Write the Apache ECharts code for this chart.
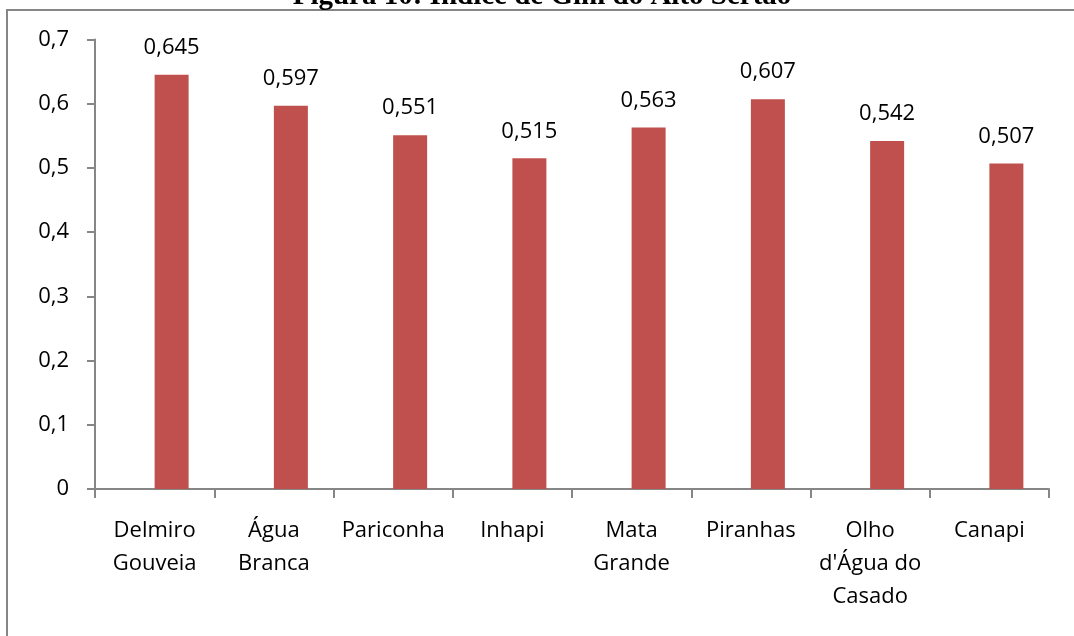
<!DOCTYPE html>
<html>
<head>
<meta charset="utf-8">
<script src="https://cdn.jsdelivr.net/npm/echarts@6/dist/echarts.min.js"></script>
<style>
html,body{margin:0;padding:0;background:#fff;}
#chart{width:1074px;height:636px;}
</style>
</head>
<body>
<div id="chart"></div>
<script>
const titleText = 'Figura 10: Índice de Gini do Alto Sertão';
const categories = ['Delmiro\nGouveia', 'Água\nBranca', 'Pariconha', 'Inhapi', 'Mata\nGrande', 'Piranhas', "Olho\nd'Água do\nCasado", 'Canapi'];
const giniValues = [0.645, 0.597, 0.551, 0.515, 0.563, 0.607, 0.542, 0.507];
const emptySeries = ['-', '-', '-', '-', '-', '-', '-', '-'];
const yMin = 0, yMax = 0.7, yStep = 0.1;

const axisGray = '#868686';
const fontFam = '"Open Sans", sans-serif';

const chart = echarts.init(document.getElementById('chart'), null, {renderer: 'canvas'});
chart.setOption({
  animation: false,
  backgroundColor: '#fff',
  graphic: [
    {type: 'rect', shape: {x: 7, y: 10, width: 1200, height: 800}, style: {fill: 'none', stroke: axisGray, lineWidth: 2}, silent: true, z: 0},
    {type: 'text', x: 542, y: -3, style: {text: titleText, font: 'bold 29px "Liberation Serif", serif', fill: '#000', align: 'center', verticalAlign: 'middle'}, z: 10}
  ],
  grid: {left: 95, right: 25, top: 39.5, bottom: 147, containLabel: false},
  xAxis: {
    type: 'category',
    data: categories,
    boundaryGap: true,
    axisLine: {show: true, lineStyle: {color: axisGray, width: 2}},
    axisTick: {show: true, length: 9, lineStyle: {color: axisGray, width: 2}},
    axisLabel: {interval: 0, margin: 25, color: '#000', fontFamily: fontFam, fontSize: 22, lineHeight: 33, align: 'center'},
    splitLine: {show: false}
  },
  yAxis: {
    type: 'value',
    min: yMin, max: yMax, interval: yStep,
    axisLine: {show: true, lineStyle: {color: axisGray, width: 2}},
    axisTick: {show: true, length: 8, lineStyle: {color: axisGray, width: 2}},
    axisLabel: {margin: 26, color: '#000', fontFamily: fontFam, fontSize: 22,
      formatter: v => v === 0 ? '0' : v.toFixed(1).replace('.', ',')},
    splitLine: {show: false}
  },
  series: [
    {type: 'bar', data: emptySeries, barWidth: 34, barGap: '0%', itemStyle: {color: '#4F81BD'}},
    {type: 'bar', data: giniValues, barWidth: 34, barGap: '0%',
      itemStyle: {color: '#C0504D'},
      label: {show: true, position: 'top', distance: 16, color: '#000', fontFamily: fontFam, fontSize: 22, lineHeight: 22,
        formatter: p => p.value.toFixed(3).replace('.', ',')}}
  ]
});
</script>
</body>
</html>
